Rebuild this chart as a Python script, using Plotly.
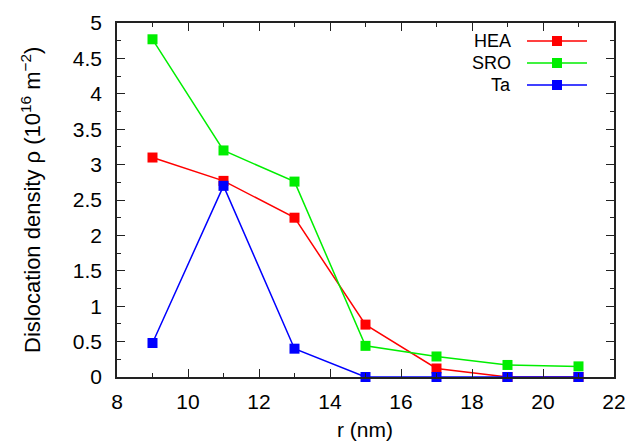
import plotly.graph_objects as go

r_nm = [9, 11, 13, 15, 17, 19, 21]
hea = [3.10, 2.77, 2.25, 0.74, 0.12, 0.0, 0.0]
sro = [4.77, 3.20, 2.76, 0.44, 0.29, 0.17, 0.15]
ta = [0.48, 2.70, 0.40, 0.0, 0.0, 0.0, 0.0]

series_names = ["HEA", "SRO", "Ta"]
series_values = [hea, sro, ta]
colors = ["#ff0000", "#00ee00", "#0000ff"]

x_title = "r (nm)"
y_title = "Dislocation density ρ (10<sup>16</sup> m<sup>−2</sup>)"

FONT = "Liberation Sans, Arial, Helvetica, sans-serif"

fig = go.Figure()
for name, vals, c in zip(series_names, series_values, colors):
    fig.add_trace(go.Scatter(
        x=r_nm, y=vals, mode="lines+markers", name=name,
        line=dict(color=c, width=1.5),
        marker=dict(symbol="square", size=10, color=c),
        showlegend=False, cliponaxis=False,
    ))

# layout helpers (pixel -> paper)
L, R, T, B = 117, 614, 23, 377
def px(xp): return (xp - L) / (R - L)
def py(yp): return (B - yp) / (B - T)

# custom legend (text to the left of the sample), gnuplot style
legend_y = [41, 63, 85]
for name, c, yy in zip(series_names, colors, legend_y):
    fig.add_annotation(x=px(513), y=py(yy), xref="paper", yref="paper",
                       text=name, showarrow=False, xanchor="right", yanchor="middle",
                       font=dict(family=FONT, size=18, color="black"))
    fig.add_shape(type="line", xref="paper", yref="paper",
                  x0=px(527), x1=px(587), y0=py(yy), y1=py(yy),
                  line=dict(color=c, width=1.5))
    fig.add_shape(type="rect", xref="paper", yref="paper",
                  x0=px(552), x1=px(562), y0=py(yy + 5), y1=py(yy - 5),
                  line=dict(width=0), fillcolor=c)

# axis titles
fig.add_annotation(x=px(365), y=py(443), xref="paper", yref="paper", text=x_title,
                   showarrow=False, xanchor="center", yanchor="bottom",
                   font=dict(family=FONT, size=21, color="black"))
fig.add_annotation(x=px(31), y=py(200), xref="paper", yref="paper", text=y_title,
                   showarrow=False, xanchor="center", yanchor="middle", textangle=-90,
                   font=dict(family=FONT, size=22, color="black"))

axis_common = dict(
    showline=True, linecolor="#222222", linewidth=1.5, mirror="allticks",
    ticks="inside", ticklen=8, tickcolor="#222222", tickwidth=1,
    showgrid=False, zeroline=False, automargin=False,
    tickfont=dict(family=FONT, size=21, color="black"),
)

fig.update_xaxes(range=[8, 22], dtick=2, tick0=8, ticklabelstandoff=5,
                 minor=dict(dtick=1, ticks="inside", ticklen=4, tickcolor="#222222", showgrid=False),
                 **axis_common)
fig.update_yaxes(range=[0, 5], dtick=0.5, tick0=0, ticklabelstandoff=9,
                 minor=dict(dtick=0.25, ticks="inside", ticklen=4, tickcolor="#222222", showgrid=False),
                 **axis_common)

fig.update_layout(
    width=630, height=445,
    margin=dict(l=L, r=630 - R, t=T, b=445 - B),
    paper_bgcolor="white", plot_bgcolor="white",
    font=dict(family=FONT, size=21, color="black"),
)

fig.write_html("out.html")
